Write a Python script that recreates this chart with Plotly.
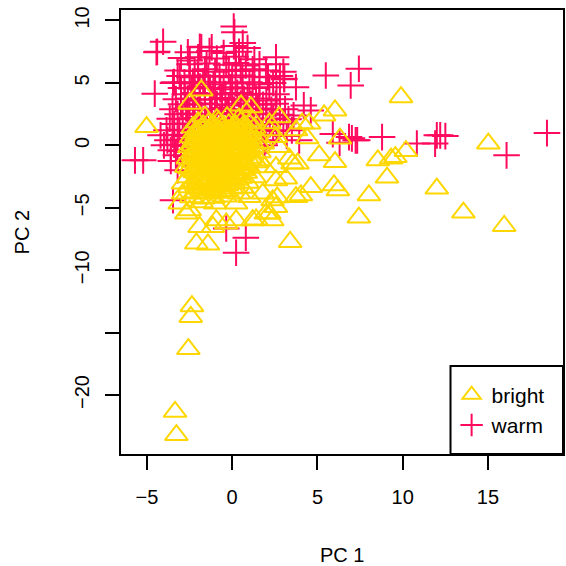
import plotly.graph_objects as go

# ---- data: (PC1, PC2) ----
bright_core = [
    (-1.6,2.3),(-0.9,2.1),(-0.3,2.25),(0.4,2.15),
    (-2.0,1.85),(-1.4,1.75),(-0.8,1.9),(-0.2,1.7),(0.5,1.85),(1.0,1.75),
    (-2.3,1.45),(-1.8,1.35),(-1.2,1.5),(-0.6,1.4),(0.0,1.35),(0.6,1.45),(1.3,1.4),
    (-2.2,1.05),(-1.6,0.95),(-1.0,1.1),(-0.4,0.95),(0.2,1.05),(0.8,0.95),
    (-2.4,0.65),(-1.9,0.55),(-1.3,0.6),(-0.7,0.7),(-0.1,0.55),(0.4,0.65),(1.1,0.6),
    (-2.1,0.25),(-1.5,0.15),(-0.9,0.2),(-0.3,0.3),(0.3,0.15),(0.9,0.25),(1.5,0.2),
    (-2.5,-0.15),(-1.8,-0.25),(-1.2,-0.2),(-0.6,-0.1),(0.0,-0.25),(0.6,-0.2),(1.2,-0.15),
    (-2.2,-0.55),(-1.6,-0.65),(-1.0,-0.6),(-0.4,-0.5),(0.2,-0.65),(0.8,-0.6),(1.6,-0.55),
    (-2.6,-1.05),(-1.9,-0.95),(-1.3,-1.0),(-0.7,-1.1),(-0.1,-0.95),(0.5,-1.05),(1.1,-1.0),
    (-2.3,-1.35),(-1.7,-1.45),(-1.1,-1.4),(-0.5,-1.3),(0.1,-1.45),(0.7,-1.4),(1.4,-1.35),
    (-2.5,-1.85),(-1.9,-1.75),(-1.3,-1.8),(-0.8,-1.9),(-0.2,-1.75),(0.4,-1.85),(1.0,-1.8),(1.9,-1.75),
    (-2.2,-2.15),(-1.6,-2.25),(-1.0,-2.2),(-0.4,-2.1),(0.2,-2.25),(0.8,-2.2),
    (-2.6,-2.55),(-2.0,-2.65),(-1.4,-2.6),(-0.8,-2.5),(-0.2,-2.65),(0.5,-2.6),(1.3,-2.55),
    (-2.3,-2.95),(-1.7,-3.05),(-1.1,-3.0),(-0.5,-2.9),(0.1,-3.05),(0.9,-3.0),
    (-2.5,-3.35),(-1.9,-3.45),(-1.3,-3.4),(-0.7,-3.3),(0.0,-3.45),(0.6,-3.4),
    (-2.1,-3.75),(-1.5,-3.85),(-0.9,-3.8),(-0.3,-3.7),(0.4,-3.85),
    (-2.4,-4.15),(-1.7,-4.25),(-1.1,-4.2),(-0.4,-4.1),
    (-1.8,-4.55),(-1.0,-4.65),
    (-1.7,1.6),(-1.1,1.65),(-0.5,1.55),(0.2,1.6),(0.8,1.55),
    (-2.0,1.2),(-1.4,1.25),(-0.8,1.15),(-0.2,1.2),(0.4,1.25),(1.0,1.2),
    (-2.1,0.8),(-1.5,0.85),(-0.9,0.75),(-0.3,0.8),(0.3,0.85),(0.9,0.8),
    (-2.2,0.4),(-1.6,0.45),(-1.0,0.35),(-0.4,0.4),(0.2,0.45),(0.7,0.4),
    (-2.3,0.0),(-1.7,0.05),(-1.1,-0.05),(-0.5,0.0),(0.1,0.05),(0.7,0.0),
    (-2.0,-0.4),(-1.4,-0.35),(-0.8,-0.45),(-0.2,-0.4),(0.4,-0.35),(1.0,-0.4),
    (-2.3,-0.8),(-1.7,-0.75),(-1.1,-0.85),(-0.5,-0.8),(0.1,-0.75),(0.6,-0.8),
    (-2.0,-1.2),(-1.4,-1.15),(-0.8,-1.25),(-0.2,-1.2),(0.4,-1.15),(1.0,-1.2),
    (-2.1,-1.6),(-1.5,-1.55),(-0.9,-1.65),(-0.3,-1.6),(0.3,-1.55),(0.8,-1.6),
    (-2.3,-2.0),(-1.7,-1.95),(-1.1,-2.05),(-0.5,-2.0),(0.1,-1.95),(0.6,-2.0),
    (-1.9,-2.4),(-1.3,-2.35),(-0.7,-2.45),(-0.1,-2.4),(0.4,-2.35),
    (-2.0,-2.8),(-1.4,-2.75),(-0.8,-2.85),(-0.2,-2.8),(0.3,-2.75),
    (-2.1,-3.2),(-1.5,-3.15),(-0.9,-3.25),(-0.3,-3.2),
    (-1.8,-3.6),(-1.2,-3.55),(-0.6,-3.65),
]

bright_outer = [
    (-5.02,1.46),(9.9,3.86),(15.02,0.14),(12.0,-3.46),(13.56,-5.38),(15.95,-6.46),
    (7.43,-5.78),(8.02,-4.0),(9.08,-2.58),(8.54,-1.2),(9.32,-1.06),(9.57,-0.94),
    (10.19,-0.46),(6.2,-3.6),(5.97,-3.2),(6.03,-1.34),(5.1,-0.8),(6.32,0.54),
    (6.03,2.8),(5.39,2.4),(4.51,1.74),(4.1,1.74),(4.61,-3.34),(4.03,-4.0),
    (3.4,-7.74),(2.64,-4.16),(-2.36,-12.88),(-2.43,-13.74),(-2.57,-16.32),
    (-3.35,-21.34),(-3.27,-23.2),(-1.42,-7.94),(-2.1,-7.86),(1.98,-5.46),(1.4,-5.94),
    (-1.81,4.4),(-2.49,3.34),(0.52,3.2),(1.1,3.06),
    (-0.35,-6.26),(-1.13,-6.54),(2.37,-4.4),(-2.69,-5.46),(-3.08,-4.66),(-2.88,-3.06),(-2.69,-1.74),
    (2.76,2.26),(3.83,-1.46),(3.35,-1.06),(2.57,-1.74),(3.15,-2.66),(3.74,-4.14),
    (2.57,-4.94),(2.35,-6.0),(4.4,0.56),(2.57,0.66),(2.18,1.76),
    (2.18,-5.46),(1.2,-6.0),(1.79,-3.86),(2.57,-2.8),(3.54,-1.46),(3.74,1.2),
    (2.76,-0.14),(0.23,-6.0),(-0.93,-6.0),(-1.91,-6.54),(-2.49,-5.2),(-2.88,-3.86),
    (0.23,-4.66),(1.01,-4.14),(1.59,-1.2),(1.79,0.14),(2.18,1.2),(1.2,2.0),
]

warm_core = [
    (-4.05,8.3),(0.62,8.2),
    (-1.9,7.9),(-1.2,7.85),(0.1,7.95),(0.9,7.8),
    (-4.4,7.5),(-2.6,7.45),(-1.33,7.55),(-0.5,7.4),(0.4,7.5),
    (-3.0,7.0),(-2.0,7.05),(-0.9,6.95),(0.2,7.1),(1.3,6.9),(2.57,7.05),
    (-2.5,6.5),(-1.5,6.55),(-0.35,6.45),(0.23,6.6),(0.8,6.4),(1.6,6.5),(2.57,6.5),
    (-3.2,6.0),(-2.2,5.95),(-1.6,6.1),(-1.0,5.9),(-0.2,6.05),(0.5,5.95),(1.2,6.1),(1.98,6.0),(3.0,5.9),
    (-3.08,5.55),(-2.5,5.45),(-2.0,5.6),(-1.4,5.5),(-0.74,5.55),(0.0,5.45),(0.6,5.6),(1.3,5.5),(2.1,5.45),(2.8,5.55),
    (-3.47,5.0),(-2.8,5.05),(-2.3,4.95),(-1.7,5.1),(-1.1,4.9),(-0.5,5.05),(0.2,4.95),(1.01,5.05),(1.6,4.9),(2.4,5.0),(3.05,5.3),
    (-3.0,4.6),(-2.4,4.55),(-1.9,4.7),(-1.3,4.6),(-0.7,4.5),(-0.1,4.65),(0.6,4.55),(1.2,4.6),(2.18,4.66),(3.74,4.66),
    (-4.54,4.14),(-2.78,4.1),(-2.2,4.2),(-1.6,4.05),(-1.0,4.15),(-0.4,4.1),(0.3,4.2),(0.9,4.05),(1.59,4.14),(2.6,4.1),
    (-3.3,3.7),(-2.6,3.75),(-1.9,3.65),(-1.2,3.7),(-0.6,3.8),(0.0,3.65),(0.7,3.7),(1.4,3.75),(2.0,3.6),(2.8,3.7),
    (-3.0,3.3),(-2.3,3.25),(-1.6,3.35),(-0.9,3.3),(-0.2,3.2),(0.5,3.35),(1.1,3.3),(1.8,3.25),(2.55,3.34),
    (-3.5,2.9),(-2.7,2.95),(-2.0,2.85),(-1.3,2.9),(-0.6,3.0),(0.1,2.85),(0.8,2.9),(1.5,2.95),(2.3,2.85),(3.1,2.9),(4.61,2.8),
    (-3.2,2.5),(-2.5,2.55),(-1.8,2.45),(-1.0,2.5),(-0.3,2.6),(0.4,2.45),(1.2,2.5),(2.0,2.55),(2.8,2.45),
    (-3.66,2.14),(-2.9,2.1),(-2.2,2.2),(-1.5,2.05),(-0.7,2.1),(0.0,2.2),(0.8,2.05),(1.6,2.1),(2.4,2.15),(3.3,2.1),
    (-3.4,1.7),(-2.6,1.75),(-1.9,1.65),(-1.2,1.7),(0.5,1.75),(1.3,1.65),(2.2,1.7),(3.0,1.75),
    (-3.85,1.2),(-3.1,1.25),(-2.4,1.15),(1.0,1.2),(1.8,1.25),(2.6,1.15),(3.5,1.2),
    (-4.2,0.8),(-3.5,0.85),(-2.8,0.75),(1.5,0.8),(2.4,0.85),(3.2,0.75),
    (-3.8,0.4),(-3.2,0.45),(-2.6,0.35),(2.0,0.4),(3.93,0.4),
    (-4.0,0.0),(-3.4,0.05),(-2.8,-0.05),(1.9,0.0),
    (-3.6,-0.4),(-3.0,-0.45),(-3.3,-0.8),(-2.7,-0.85),
    (-5.7,-1.2),(-5.22,-1.2),(-3.6,-1.25),(-3.2,-2.0),
]

warm_outer = [
    (0.09,9.52),(0.13,9.06),(-4.44,7.46),(-3.41,5.06),(-1.81,7.86),(-2.49,6.8),
    (5.49,5.6),(7.43,6.14),(6.95,4.8),(8.79,0.66),(10.83,0.14),(12.0,0.8),
    (12.2,0.8),(12.5,0.74),(11.9,0.14),(16.09,-0.8),(18.46,0.98),(7.24,0.4),
    (6.85,0.66),(7.02,0.56),(7.33,0.4),(3.05,5.34),(-3.47,-4.4),
    (-0.35,-6.66),(0.23,-8.6),(0.8,-7.4),(5.9,0.9),(6.3,0.2),(4.2,3.2),(3.6,2.4),
]

x_ticks = [-5, 0, 5, 10, 15]
x_labels = ["\u22125", "0", "5", "10", "15"]
y_ticks = [-20, -15, -10, -5, 0, 5, 10]
y_labels = ["\u221220", "", "\u221210", "\u22125", "0", "5", "10"]

YELLOW = "#FFD700"
RED = "#FF0A5E"
FONT = "Liberation Sans"

warm = warm_core + warm_outer
bright = bright_core + bright_outer

fig = go.Figure()
fig.add_trace(go.Scatter(
    x=[p[0] for p in warm], y=[p[1] for p in warm], mode="markers", name="warm",
    legendrank=2,
    marker=dict(symbol="cross-thin-open", size=19, color=RED,
                line=dict(color=RED, width=2)),
))
fig.add_trace(go.Scatter(
    x=[p[0] for p in bright], y=[p[1] for p in bright], mode="markers", name="bright",
    legendrank=1,
    marker=dict(symbol="triangle-up-open", size=20, color=YELLOW,
                line=dict(color=YELLOW, width=2)),
))

axis_common = dict(
    showgrid=False, zeroline=False, showline=True, linecolor="black", linewidth=2,
    mirror=True, ticks="outside", ticklen=14, tickwidth=2, tickcolor="black",
    tickfont=dict(family=FONT, size=20, color="black"),
)

# plot area in pixels: x 121..565, y 10..454 (444 x 444)
fig.update_layout(
    width=566, height=566,
    margin=dict(l=121, r=1, t=10, b=112),
    paper_bgcolor="white", plot_bgcolor="white",
    showlegend=True,
    legend=dict(
        x=0.748, y=0.099, xanchor="left", yanchor="middle",
        traceorder="normal",
        borderwidth=0, bgcolor="rgba(0,0,0,0)",
        font=dict(family=FONT, size=21, color="black"),
        itemsizing="trace",
    ),
    shapes=[dict(type="rect", xref="paper", yref="paper",
                 x0=0.7455, x1=1.0, y0=0.0, y1=0.198,
                 line=dict(color="black", width=2), fillcolor="white", layer="above")],
    xaxis=dict(range=[-6.52, 19.4], tickvals=x_ticks, ticktext=x_labels,
               ticklabelstandoff=10, **axis_common),
    yaxis=dict(range=[-24.72, 10.84], tickvals=y_ticks, ticktext=y_labels,
               tickangle=-90, ticklabelstandoff=8, **axis_common),
    annotations=[
        dict(text="PC 1", xref="paper", yref="paper", x=0.5, y=-0.227,
             xanchor="center", yanchor="middle", showarrow=False,
             font=dict(family=FONT, size=20, color="black")),
        dict(text="PC 2", xref="paper", yref="paper", x=-0.223, y=0.5,
             xanchor="center", yanchor="middle", showarrow=False, textangle=-90,
             font=dict(family=FONT, size=20, color="black")),
    ],
)

fig.write_html(
    "out.html",
    config={"displayModeBar": False},
    post_script="document.body.style.margin='0';document.body.style.overflow='hidden';",
)
